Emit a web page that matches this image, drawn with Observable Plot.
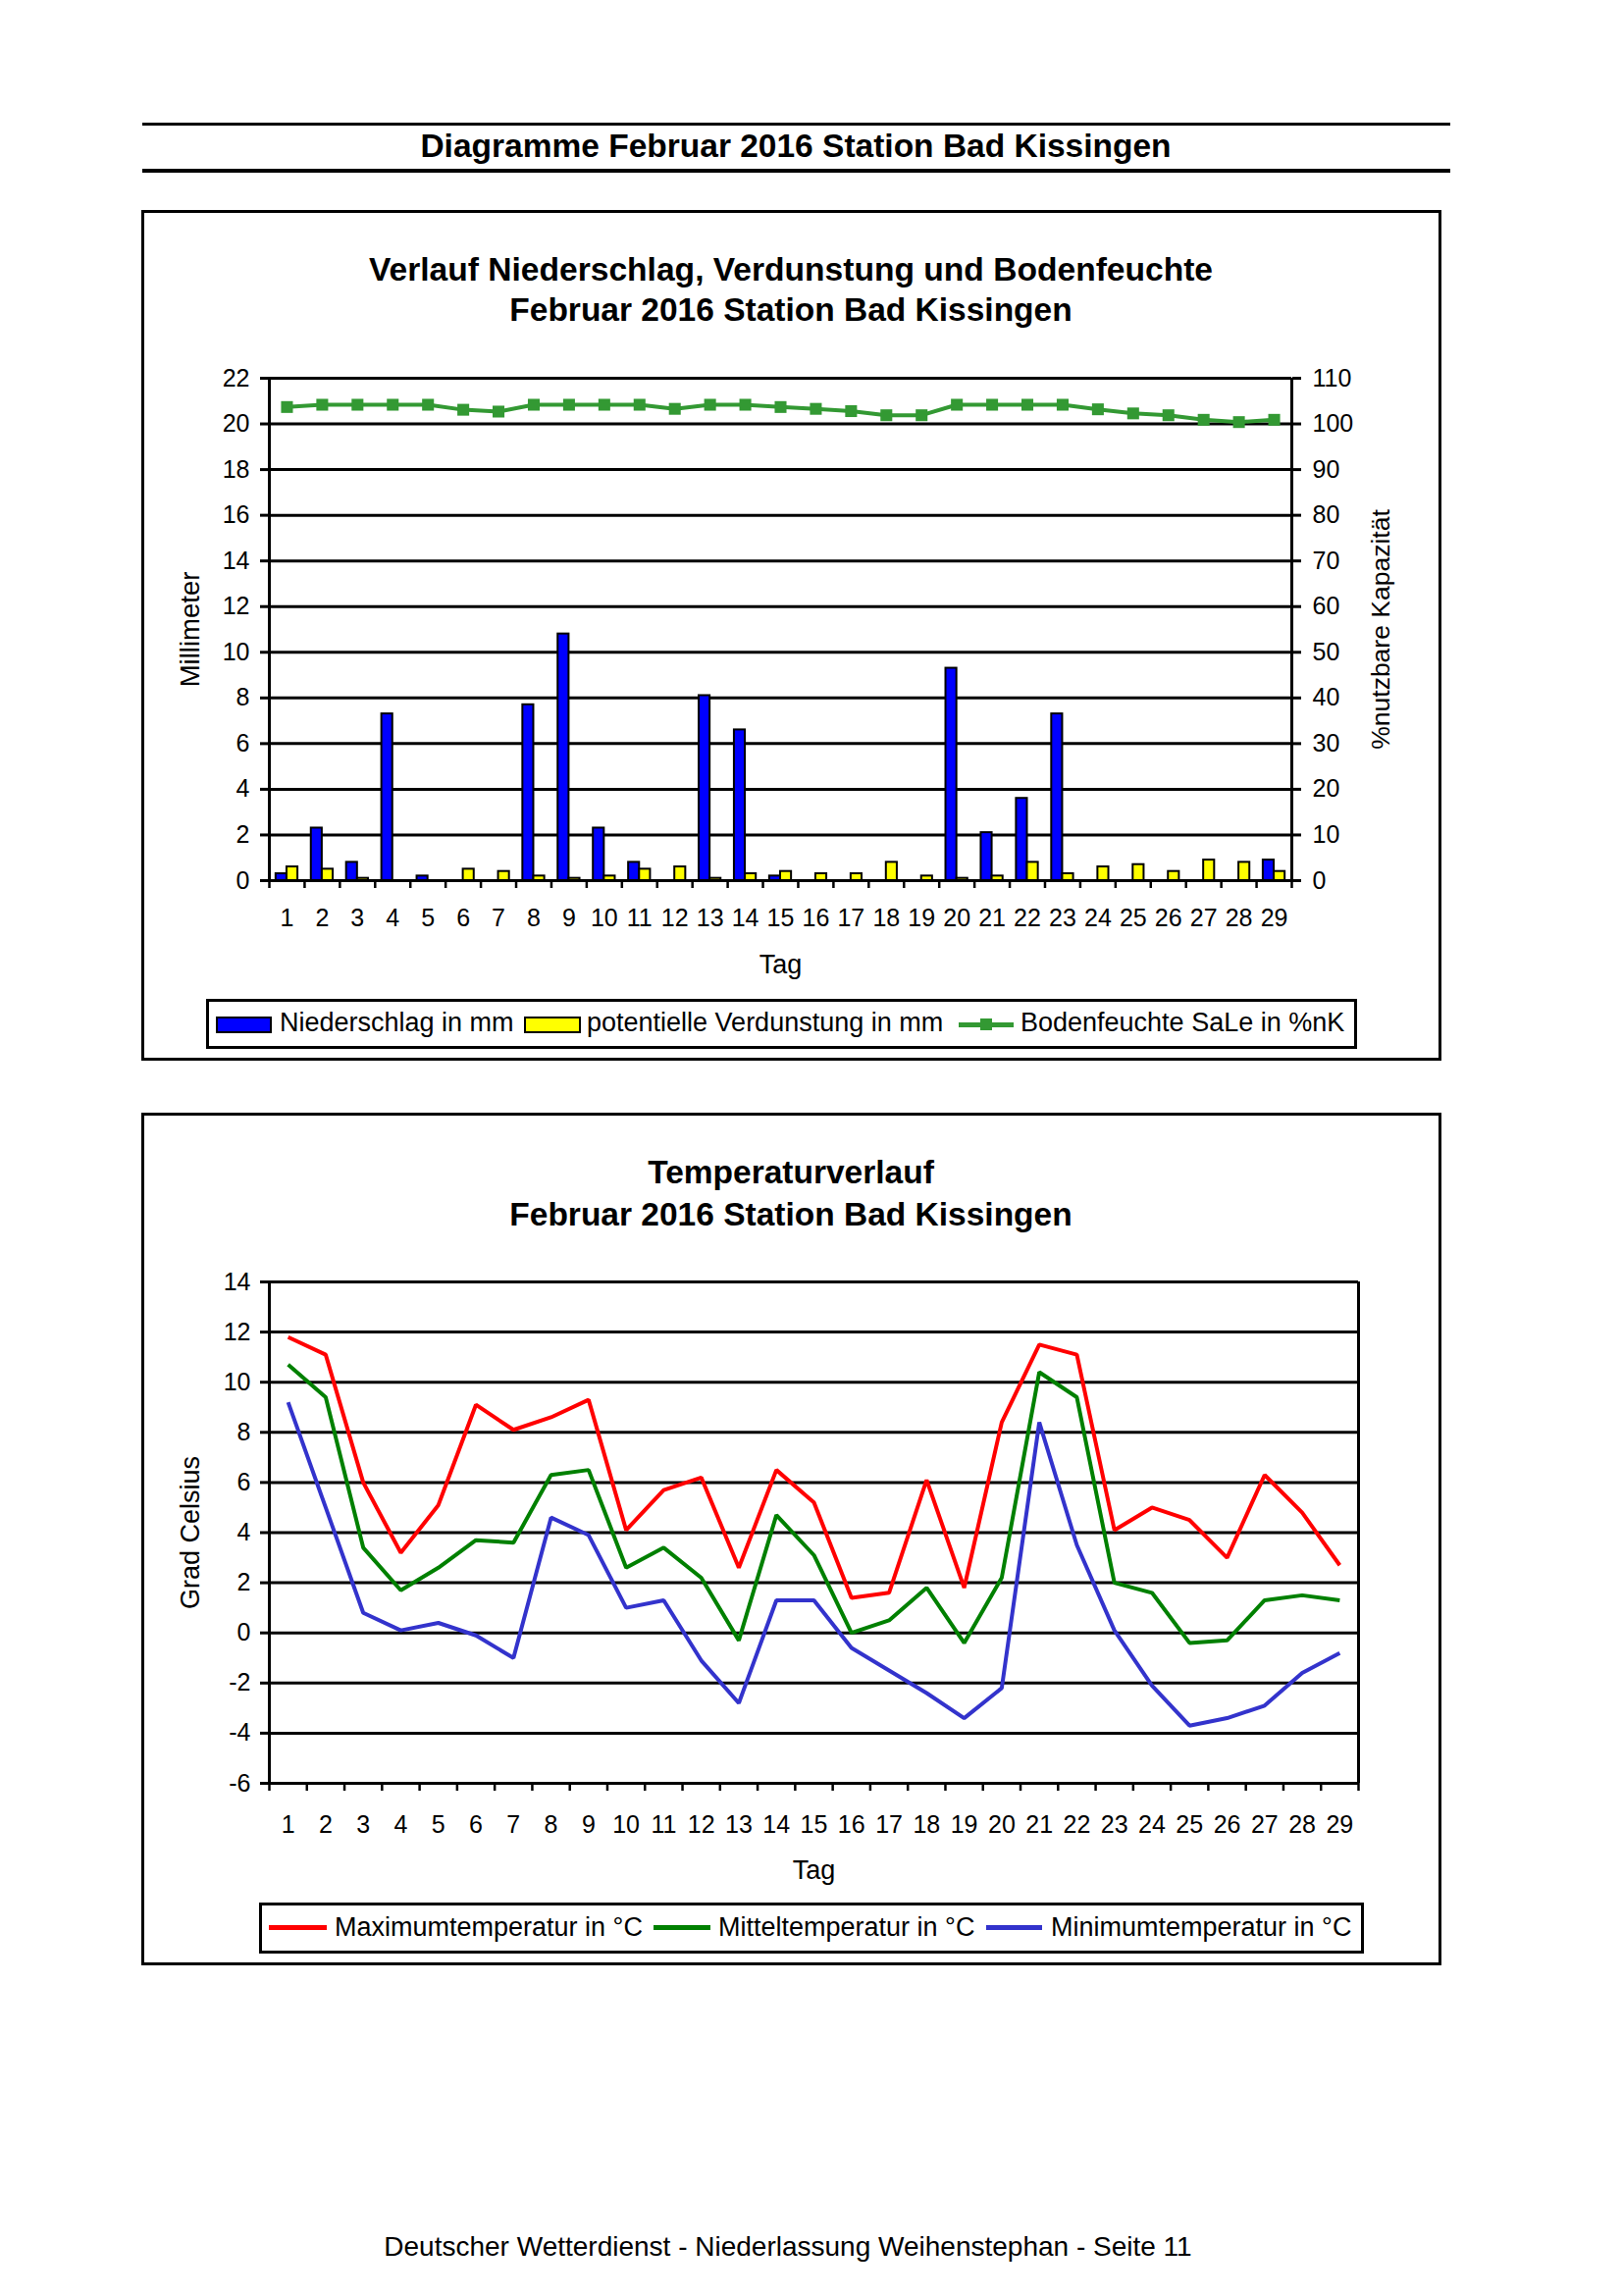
<!DOCTYPE html>
<html>
<head>
<meta charset="utf-8">
<script src="https://cdn.jsdelivr.net/npm/d3@7"></script>
<script src="https://cdn.jsdelivr.net/npm/@observablehq/plot@0.6"></script>
<style>
  html, body { margin: 0; padding: 0; background: #fff; }
  #page { position: relative; width: 1653px; height: 2340px; background: #fff; overflow: hidden;
          font-family: "Liberation Sans", Arial, sans-serif; color: #000; }
  .abs { position: absolute; box-sizing: border-box; }
  .t { position: absolute; white-space: nowrap; line-height: 1; }
  .c { transform: translateX(-50%); }
  .b { font-weight: bold; }
</style>
</head>
<body>
<div id="page"></div>
<script>
// ---------------- Data ----------------
const days = [1,2,3,4,5,6,7,8,9,10,11,12,13,14,15,16,17,18,19,20,21,22,23,24,25,26,27,28,29];

// Niederschlag in mm
const niederschlag = [0.3,2.3,0.8,7.3,0.2,0,0,7.7,10.8,2.3,0.8,0,8.1,6.6,0.2,0,0,0,0,9.3,2.1,3.6,7.3,0,0,0,0,0,0.9];
// potentielle Verdunstung in mm
const verdunstung = [0.6,0.5,0.1,0,0,0.5,0.4,0.2,0.1,0.2,0.5,0.6,0.1,0.3,0.4,0.3,0.3,0.8,0.2,0.1,0.2,0.8,0.3,0.6,0.7,0.4,0.9,0.8,0.4];
// Bodenfeuchte SaLe in %nK
const bodenfeuchte = [103.7,104.2,104.2,104.2,104.2,103.1,102.7,104.2,104.2,104.2,104.2,103.3,104.2,104.2,103.7,103.3,102.8,101.9,101.9,104.2,104.2,104.2,104.2,103.2,102.3,101.9,100.9,100.4,100.9];

// Temperatures in °C
const tmax = [11.8,11.1,6.0,3.2,5.1,9.1,8.1,8.6,9.3,4.1,5.7,6.2,2.6,6.5,5.2,1.4,1.6,6.1,1.8,8.4,11.5,11.1,4.1,5.0,4.5,3.0,6.3,4.8,2.7];
const tmit = [10.7,9.4,3.4,1.7,2.6,3.7,3.6,6.3,6.5,2.6,3.4,2.2,-0.3,4.7,3.1,0.0,0.5,1.8,-0.4,2.2,10.4,9.4,2.0,1.6,-0.4,-0.3,1.3,1.5,1.3];
const tmin = [9.2,5.0,0.8,0.1,0.4,-0.1,-1.0,4.6,3.9,1.0,1.3,-1.1,-2.8,1.3,1.3,-0.6,-1.5,-2.4,-3.4,-2.2,8.4,3.5,0.1,-2.1,-3.7,-3.4,-2.9,-1.6,-0.8];

// Tick values
const mmTicks = [0,2,4,6,8,10,12,14,16,18,20,22];
const pctTicks = [0,10,20,30,40,50,60,70,80,90,100,110];
const tempTicks = [-6,-4,-2,0,2,4,6,8,10,12,14];

// Texts
const headerText = "Diagramme Februar 2016 Station Bad Kissingen";
const title1 = ["Verlauf Niederschlag, Verdunstung und Bodenfeuchte", "Februar 2016 Station Bad Kissingen"];
const title2 = ["Temperaturverlauf", "Februar 2016 Station Bad Kissingen"];
const legend1 = ["Niederschlag in mm", "potentielle Verdunstung in mm", "Bodenfeuchte SaLe in %nK"];
const legend2 = ["Maximumtemperatur in °C", "Mitteltemperatur in °C", "Minimumtemperatur in °C"];
const footerText = "Deutscher Wetterdienst - Niederlassung Weihenstephan - Seite 11";

// Colours
const C_BLUE = "#0000ff", C_YELLOW = "#ffff00", C_SOIL = "#339933";
const C_MAX = "#ff0000", C_MIT = "#008000", C_MIN = "#3333cc";

// ---------------- Layout helpers ----------------
const FONT = '"Liberation Sans", Arial, sans-serif';
const page = document.getElementById("page");
function box(l, t, w, h, css) {
  const d = document.createElement("div");
  d.className = "abs";
  Object.assign(d.style, {left: l + "px", top: t + "px", width: w + "px", height: h + "px"}, css || {});
  page.appendChild(d);
  return d;
}
// text positioned by baseline
function text(str, x, baseline, size, opts = {}) {
  const d = document.createElement("div");
  d.className = "t" + (opts.center ? " c" : "") + (opts.bold ? " b" : "");
  d.textContent = str;
  d.style.left = x + "px";
  d.style.top = (baseline - 0.8465 * size) + "px";
  d.style.fontSize = size + "px";
  page.appendChild(d);
  return d;
}

// ---------------- Header ----------------
box(145, 125, 1333, 3, {background: "#000"});
box(145, 172, 1333, 4, {background: "#000"});
text(headerText, 811, 160, 33.5, {center: true, bold: true});

// ---------------- Frames ----------------
box(144, 214, 1325, 867, {border: "3px solid #000"});
box(144, 1134, 1325, 869, {border: "3px solid #000"});

text(title1[0], 806, 286, 33.6, {center: true, bold: true});
text(title1[1], 806, 327, 33.5, {center: true, bold: true});
text(title2[0], 806, 1206, 33.5, {center: true, bold: true});
text(title2[1], 806, 1249, 33.5, {center: true, bold: true});

// ---------------- Chart 1 ----------------
const topData = days.map((d, i) => ({day: d, nied: niederschlag[i], verd: verdunstung[i], boden: bodenfeuchte[i]}));
const bounds = days.map(d => d - 0.5).concat([days[days.length - 1] + 0.5]);
const xDomain = [bounds[0], bounds[bounds.length - 1]];
const BW = 0.31; // bar width in day units

const chart1 = Plot.plot({
  width: 1653, height: 640,
  marginTop: 25, marginBottom: 103, marginLeft: 274, marginRight: 337,
  style: {fontFamily: FONT, fontSize: "25px", color: "#000", background: "transparent", overflow: "visible"},
  x: {type: "linear", domain: xDomain},
  y: {domain: [0, 22]},
  marks: [
    Plot.ruleY(mmTicks, {stroke: "#000", strokeWidth: 3}),
    Plot.ruleX([xDomain[0], xDomain[1]], {y1: 0, y2: 22, stroke: "#000", strokeWidth: 3}),
    Plot.rect(topData.filter(d => d.nied > 0), {x1: d => d.day - BW, x2: "day", y1: 0, y2: "nied",
      fill: C_BLUE, stroke: "#000", strokeWidth: 2}),
    Plot.rect(topData.filter(d => d.verd > 0), {x1: "day", x2: d => d.day + BW, y1: 0, y2: "verd",
      fill: C_YELLOW, stroke: "#000", strokeWidth: 2}),
    Plot.axisY(mmTicks, {anchor: "left", tickSize: 9, tickPadding: 11, strokeWidth: 3, fontSize: 25, label: null, tickFormat: d => String(d)}),
    Plot.axisY(pctTicks.map(p => p / 5), {anchor: "right", tickSize: 9, tickPadding: 12, strokeWidth: 3, fontSize: 25, label: null, tickFormat: d => String(Math.round(d * 5))}),
    Plot.axisX(bounds, {anchor: "bottom", tickSize: 8, strokeWidth: 2.5, tickFormat: () => "", label: null}),
    Plot.axisX(days, {anchor: "bottom", tickSize: 0, tickPadding: 29, fontSize: 25, label: null, tickFormat: d => String(d)}),
    Plot.line(topData, {x: "day", y: d => d.boden / 5, stroke: C_SOIL, strokeWidth: 4, strokeLinejoin: "miter"}),
    Plot.dot(topData, {x: "day", y: d => d.boden / 5, symbol: "square", r: 6.8, fill: C_SOIL, stroke: "none"}),
    Plot.text(["Millimeter"], {frameAnchor: "left", dx: -80, rotate: -90, textAnchor: "middle", lineAnchor: "middle", fontSize: 27.5}),
    Plot.text(["%nutzbare Kapazität"], {frameAnchor: "right", dx: 91, rotate: -90, textAnchor: "middle", lineAnchor: "middle", fontSize: 26.5}),
    Plot.text(["Tag"], {frameAnchor: "bottom", dy: 86, textAnchor: "middle", lineAnchor: "middle", fontSize: 27})
  ]
});
const w1 = box(0, 360, 1653, 640);
w1.appendChild(chart1);

// Legend 1
box(210, 1018, 1173, 51, {border: "3px solid #000", background: "#fff"});
box(220, 1036, 57, 17, {background: C_BLUE, border: "2px solid #000"});
text(legend1[0], 285, 1052, 27);
box(534, 1036, 58, 17, {background: C_YELLOW, border: "2px solid #000"});
text(legend1[1], 598, 1052, 27);
box(977, 1042, 56, 5, {background: C_SOIL});
box(999, 1038, 12, 12, {background: C_SOIL});
text(legend1[2], 1040, 1052, 27);

// ---------------- Chart 2 ----------------
const tempData = days.map((d, i) => ({day: d, max: tmax[i], mit: tmit[i], min: tmin[i]}));
const chart2 = Plot.plot({
  width: 1653, height: 650,
  marginTop: 26, marginBottom: 113, marginLeft: 274, marginRight: 269,
  style: {fontFamily: FONT, fontSize: "25px", color: "#000", background: "transparent", overflow: "visible"},
  x: {type: "linear", domain: xDomain},
  y: {domain: [-6, 14]},
  marks: [
    Plot.ruleY(tempTicks, {stroke: "#000", strokeWidth: 3}),
    Plot.ruleX([xDomain[0], xDomain[1]], {y1: -6, y2: 14, stroke: "#000", strokeWidth: 3}),
    Plot.axisY(tempTicks, {anchor: "left", tickSize: 9, tickPadding: 10, strokeWidth: 3, fontSize: 25, label: null, tickFormat: d => String(d)}),
    Plot.axisX(bounds, {anchor: "bottom", tickSize: 8, strokeWidth: 2.5, tickFormat: () => "", label: null}),
    Plot.axisX(days, {anchor: "bottom", tickSize: 0, tickPadding: 33, fontSize: 25, label: null, tickFormat: d => String(d)}),
    Plot.line(tempData, {x: "day", y: "max", stroke: C_MAX, strokeWidth: 4, strokeLinejoin: "miter", strokeLinecap: "butt"}),
    Plot.line(tempData, {x: "day", y: "mit", stroke: C_MIT, strokeWidth: 4, strokeLinejoin: "miter", strokeLinecap: "butt"}),
    Plot.line(tempData, {x: "day", y: "min", stroke: C_MIN, strokeWidth: 4, strokeLinejoin: "miter", strokeLinecap: "butt"}),
    Plot.text(["Grad Celsius"], {frameAnchor: "left", dx: -80, rotate: -90, textAnchor: "middle", lineAnchor: "middle", fontSize: 27}),
    Plot.text(["Tag"], {frameAnchor: "bottom", dy: 89, textAnchor: "middle", lineAnchor: "middle", fontSize: 27})
  ]
});
const w2 = box(0, 1280, 1653, 650);
w2.appendChild(chart2);

// Legend 2
box(264, 1939, 1126, 52, {border: "3px solid #000", background: "#fff"});
box(274, 1962, 59, 5, {background: C_MAX});
text(legend2[0], 341, 1974, 27);
box(666, 1962, 58, 5, {background: C_MIT});
text(legend2[1], 732, 1974, 27);
box(1005, 1962, 57, 5, {background: C_MIN});
text(legend2[2], 1071, 1974, 27);

// ---------------- Footer ----------------
text(footerText, 803, 2300, 28, {center: true});
</script>
</body>
</html>
